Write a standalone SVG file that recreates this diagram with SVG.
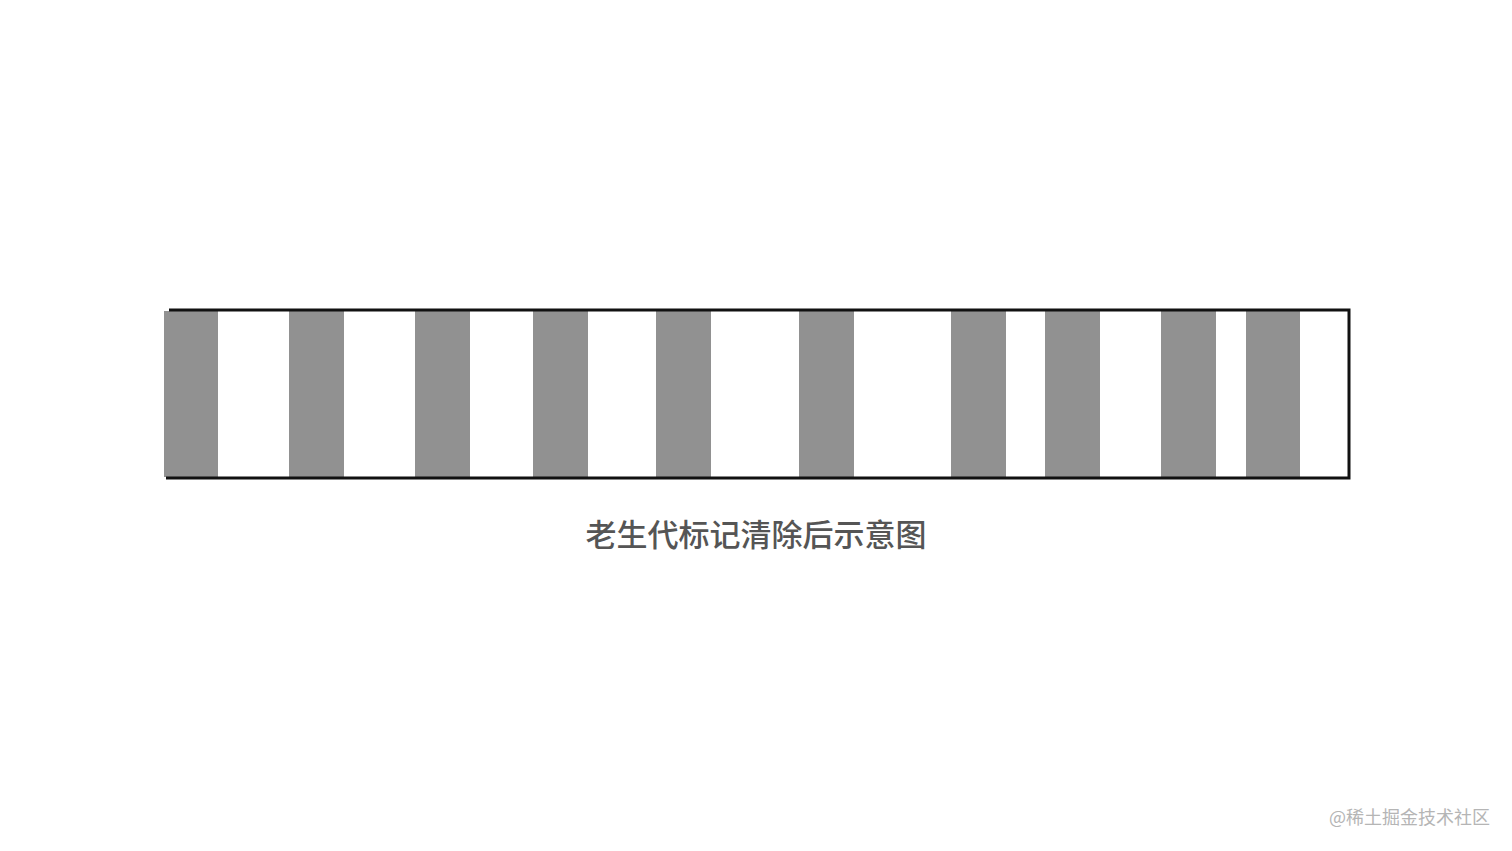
<svg xmlns="http://www.w3.org/2000/svg" width="1512" height="851" viewBox="0 0 1512 851">
<style>
.bar{fill:#919191}
.frame{fill:none;stroke:#111;stroke-width:3}
.cap{font-family:"Noto Sans CJK SC",sans-serif;font-size:31px;font-weight:500;fill:#555}
.wm{font-family:"Noto Sans CJK SC",sans-serif;font-size:18px;fill:#b5b5b5}
</style>
<rect width="1512" height="851" fill="#fff"/>
<g id="heap">
<rect class="bar" x="164" y="311" width="54" height="166"/>
<rect class="bar" x="289" y="311" width="55" height="166"/>
<rect class="bar" x="415" y="311" width="55" height="166"/>
<rect class="bar" x="533" y="311" width="55" height="166"/>
<rect class="bar" x="656" y="311" width="55" height="166"/>
<rect class="bar" x="799" y="311" width="55" height="166"/>
<rect class="bar" x="951" y="311" width="55" height="166"/>
<rect class="bar" x="1045" y="311" width="55" height="166"/>
<rect class="bar" x="1161" y="311" width="55" height="166"/>
<rect class="bar" x="1246" y="311" width="54" height="166"/>
<path class="frame" d="M169 310 L1349 310 L1349 478 L166 478"/>
</g>
<g id="caption">
<text class="cap" x="756" y="546" text-anchor="middle">老生代标记清除后示意图</text>
</g>
<text class="wm" x="1490" y="824" text-anchor="end">@稀土掘金技术社区</text>
</svg>
